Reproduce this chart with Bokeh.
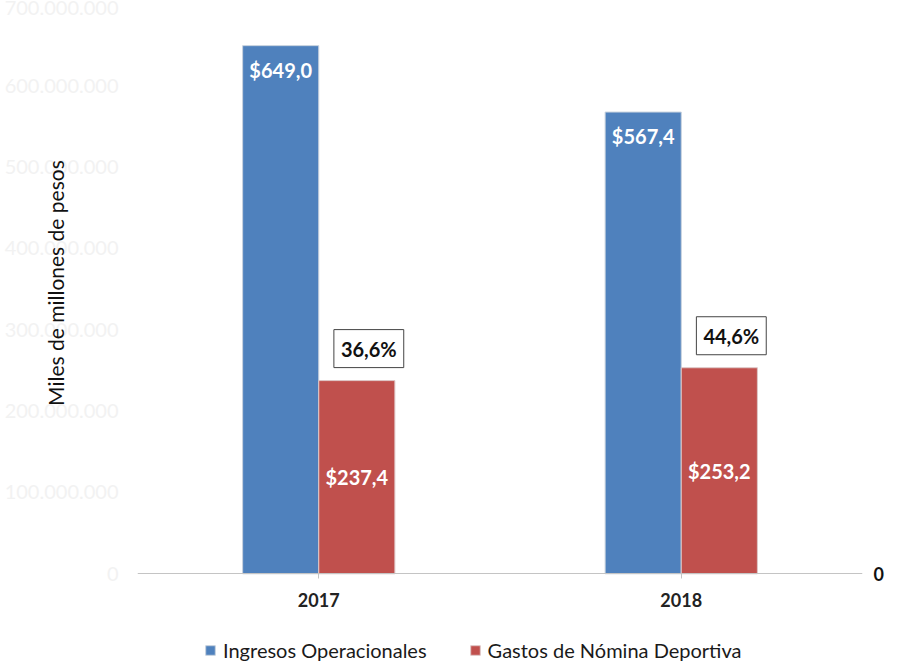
from bokeh.plotting import figure
from bokeh.models import (ColumnDataSource, FactorRange, Range1d, LinearAxis, FixedTicker,
                          CustomJSTickFormatter, Legend, LegendItem)
from bokeh.transform import dodge
from bokeh.core.properties import value
from bokeh.embed import file_html
from bokeh.resources import INLINE

# ---- data ----
years = ["2017", "2018"]
ingresos = [649.0e6, 567.4e6]          # Ingresos Operacionales
gastos = [237.4e6, 253.2e6]            # Gastos de Nómina Deportiva
y_ticks = [0, 100e6, 200e6, 300e6, 400e6, 500e6, 600e6, 700e6]
series_names = ["Ingresos Operacionales", "Gastos de Nómina Deportiva"]
y_title = "Miles de millones de pesos"

def money(v):
    return "$" + f"{v/1e6:.1f}".replace(".", ",")

src = ColumnDataSource(dict(
    year=years,
    ing=ingresos,
    gas=gastos,
    gas_half=[g / 2 for g in gastos],
    ing_lbl=[money(v) for v in ingresos],
    gas_lbl=[money(v) for v in gastos],
    pct_lbl=[f"{g / i * 100:.1f}".replace(".", ",") + "%" for g, i in zip(gastos, ingresos)],
))

FONT = "Lato"
BLUE = "#4F81BD"
RED = "#C0504D"

PX_PER_M = 0.8138e-6      # pixels per unit of value
y_top = 573.3 / PX_PER_M
y_bottom = -(662 - 573.3) / PX_PER_M

p = figure(x_range=FactorRange(*years, range_padding=0), y_range=Range1d(y_bottom, y_top),
           width=897, height=662, output_backend="svg", toolbar_location=None,
           min_border_left=137, min_border_right=35, min_border_top=0, min_border_bottom=0)
p.outline_line_color = None
p.xgrid.visible = False
p.ygrid.visible = False
p.background_fill_color = "white"

bw = 0.21
r1 = p.vbar(x=dodge("year", -bw / 2, range=p.x_range), top="ing", bottom=0, width=bw, source=src,
            fill_color=BLUE, line_color="#c8d2de", line_width=1)
r2 = p.vbar(x=dodge("year", bw / 2, range=p.x_range), top="gas", bottom=0, width=bw, source=src,
            fill_color=RED, line_color="#dec8c8", line_width=1)

# value labels
p.text(x=dodge("year", -bw / 2, range=p.x_range), y="ing", text="ing_lbl", source=src,
       text_align="center", text_baseline="middle", y_offset=24,
       text_font=value(FONT), text_font_style="bold", text_font_size="20px", text_color="white")
p.text(x=dodge("year", bw / 2, range=p.x_range), y="gas_half", text="gas_lbl", source=src,
       text_align="center", text_baseline="middle",
       text_font=value(FONT), text_font_style="bold", text_font_size="20px", text_color="white")
p.text(x=dodge("year", bw / 2, range=p.x_range), y="gas", text="pct_lbl", source=src,
       text_align="center", text_baseline="middle", x_offset=12, y_offset=-32,
       text_font=value(FONT), text_font_style="bold", text_font_size="20px", text_color="#111111",
       background_fill_color="white", border_line_color="#444444", border_line_width=1,
       padding=7)

# x axis, pinned at y = 0
xa = p.xaxis[0]
xa.fixed_location = 0
xa.axis_line_color = "#c4c4c4"
xa.major_tick_line_color = "#c4c4c4"
xa.major_tick_out = 5
xa.major_tick_in = 0
xa.major_label_standoff = 14
xa.major_label_text_font = FONT
xa.major_label_text_font_style = "bold"
xa.major_label_text_font_size = "18px"
xa.major_label_text_color = "#222222"

# y axis (faint labels)
ya = p.yaxis[0]
ya.ticker = FixedTicker(ticks=y_ticks)
ya.formatter = CustomJSTickFormatter(code="return tick.toFixed(0).replace(/\\B(?=(\\d{3})+(?!\\d))/g, '.');")
ya.axis_line_color = None
ya.major_tick_line_color = None
ya.minor_tick_line_color = None
ya.major_tick_out = 0
ya.major_tick_in = 0
ya.major_label_standoff = 19
ya.major_label_text_font = FONT
ya.major_label_text_font_size = "20px"
ya.major_label_text_color = "#f2f2f2"
# non-breaking spaces shift the (frame-centred) title up to where the reference has it
ya.axis_label = "\u00a0" * 18 + y_title
ya.axis_label_text_font = FONT
ya.axis_label_text_font_style = "normal"
ya.axis_label_text_font_size = "21px"
ya.axis_label_text_color = "#111111"
ya.axis_label_standoff = -66

# right axis with only 0
p.extra_y_ranges = {"r": Range1d(y_bottom, y_top)}
ra = LinearAxis(y_range_name="r", ticker=FixedTicker(ticks=[0]))
ra.axis_line_color = None
ra.major_tick_line_color = None
ra.minor_tick_line_color = None
ra.major_tick_out = 0
ra.major_tick_in = 0
ra.major_label_standoff = 11
ra.major_label_text_font = FONT
ra.major_label_text_font_style = "bold"
ra.major_label_text_font_size = "18px"
ra.major_label_text_color = "#111111"
p.add_layout(ra, "right")

legend = Legend(items=[LegendItem(label=series_names[0], renderers=[r1]),
                       LegendItem(label=series_names[1], renderers=[r2])],
                orientation="horizontal", location=(67, 0))
legend.border_line_color = None
legend.background_fill_alpha = 0
legend.padding = 0
legend.margin = 0
legend.spacing = 42
legend.glyph_width = 12
legend.glyph_height = 12
legend.label_standoff = 7
legend.label_text_font = FONT
legend.label_text_font_size = "20px"
legend.label_text_color = "#1a1a1a"
p.add_layout(legend, "center")

open("out.html", "w").write(file_html(p, INLINE))
